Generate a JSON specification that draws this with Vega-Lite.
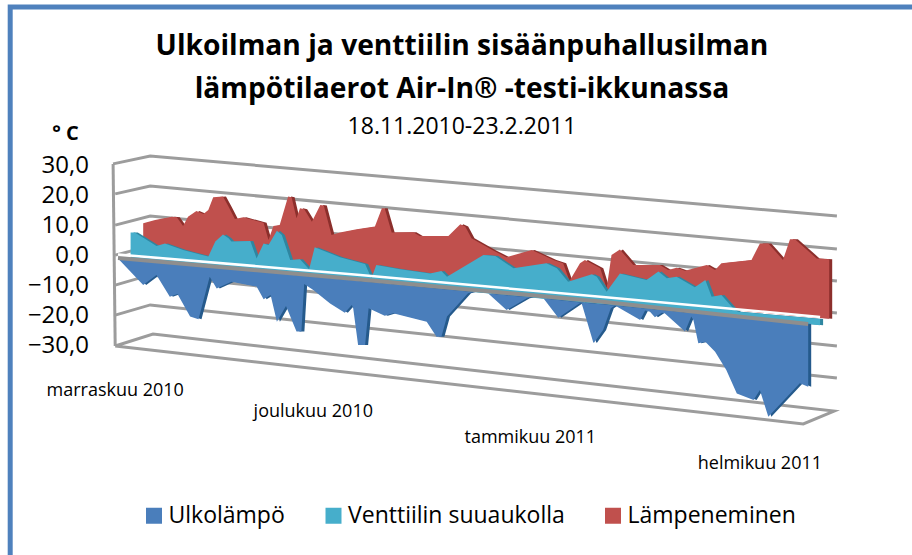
{
"$schema":"https://vega.github.io/schema/vega-lite/v6.json",
"autosize":"none","padding":0,"width":912,"height":555,"background":"white",
"view":{"stroke":null},
"title":{"text":["Ulkoilman ja venttiilin sisäänpuhallusilman","lämpötilaerot Air-In® -testi-ikkunassa"],"subtitle":"18.11.2010-23.2.2011","anchor":"middle","offset":-143,"dx":6,"font":"Open Sans","fontSize":28.2,"fontWeight":"bold","lineHeight":43,"color":"black","subtitleFont":"Open Sans","subtitleFontSize":23,"subtitleColor":"black","subtitlePadding":12},
"datasets":{
"frame":[
{"id":"reuna","i":0,"day":-15.4,"v":-100},{"id":"reuna","i":1,"day":-15.4,"v":83},{"id":"reuna","i":2,"day":114,"v":83},
{"id":"g30","i":0,"day":-0.7,"v":30.7},{"id":"g30","i":1,"day":4.6,"v":33.3},{"id":"g30","i":2,"day":102.7,"v":13.3},
{"id":"g20","i":0,"day":-0.4,"v":20.7},{"id":"g20","i":1,"day":4.6,"v":23.3},{"id":"g20","i":2,"day":102.7,"v":2.3},
{"id":"g10","i":0,"day":-0.4,"v":10.3},{"id":"g10","i":1,"day":4.6,"v":13.3},{"id":"g10","i":2,"day":102.7,"v":-8.3},
{"id":"g0","i":0,"day":-0.4,"v":0.3},{"id":"g0","i":1,"day":4.6,"v":3.3},{"id":"g0","i":2,"day":102.7,"v":-19},
{"id":"g-10","i":0,"day":-0.4,"v":-9.7},{"id":"g-10","i":1,"day":4.6,"v":-6.3},{"id":"g-10","i":2,"day":102.7,"v":-30},
{"id":"g-20","i":0,"day":-0.4,"v":-19.7},{"id":"g-20","i":1,"day":4.6,"v":-16.3},{"id":"g-20","i":2,"day":102.7,"v":-40.7},
{"id":"g-30","i":0,"day":-0.4,"v":-30},{"id":"g-30","i":1,"day":5,"v":-26},{"id":"g-30","i":2,"day":102.3,"v":-51.7},{"id":"g-30","i":3,"day":97.9,"v":-56},{"id":"g-30","i":4,"day":-0.4,"v":-30},
{"id":"seina","i":0,"day":-0.7,"v":30.7},{"id":"seina","i":1,"day":-0.4,"v":-30}
],
"zero":[
{"id":"valkoinen","i":0,"day":0,"v":0.5},{"id":"valkoinen","i":1,"day":34.6,"v":-6.3},{"id":"valkoinen","i":2,"day":68.9,"v":-13.6},{"id":"valkoinen","i":3,"day":100.3,"v":-20.3},
{"id":"harmaa","i":0,"day":0,"v":-0.7},{"id":"harmaa","i":1,"day":34.6,"v":-7.8},{"id":"harmaa","i":2,"day":68.9,"v":-15.2},{"id":"harmaa","i":3,"day":98.6,"v":-22.7}
],
"rows":[
{"series":"Lämpeneminen","day":3.6,"top":10.9,"base":-0.5},{"series":"Lämpeneminen","day":5.3,"top":12,"base":-0.9},{"series":"Lämpeneminen","day":7.7,"top":13.1,"base":-1.4},{"series":"Lämpeneminen","day":8.4,"top":12.9,"base":-1.5},{"series":"Lämpeneminen","day":9.3,"top":10,"base":-1.7},{"series":"Lämpeneminen","day":10,"top":13.1,"base":-1.9},{"series":"Lämpeneminen","day":11.2,"top":15,"base":-2.1},{"series":"Lämpeneminen","day":12.2,"top":14,"base":-2.3},{"series":"Lämpeneminen","day":12.9,"top":15.3,"base":-2.5},{"series":"Lämpeneminen","day":13.6,"top":19.6,"base":-2.6},{"series":"Lämpeneminen","day":15,"top":19.8,"base":-2.9},{"series":"Lämpeneminen","day":15.8,"top":16.4,"base":-3.1},{"series":"Lämpeneminen","day":16.7,"top":12.3,"base":-3.3},{"series":"Lämpeneminen","day":17.9,"top":12.9,"base":-3.5},{"series":"Lämpeneminen","day":20.8,"top":11.1,"base":-4.1},{"series":"Lämpeneminen","day":21.5,"top":5.3,"base":-4.3},{"series":"Lämpeneminen","day":22.2,"top":10,"base":-4.4},{"series":"Lämpeneminen","day":23.1,"top":10.3,"base":-4.6},{"series":"Lämpeneminen","day":24.3,"top":19.8,"base":-4.9},{"series":"Lämpeneminen","day":24.8,"top":19.6,"base":-5},{"series":"Lämpeneminen","day":25.5,"top":12.6,"base":-5.1},{"series":"Lämpeneminen","day":26,"top":15.9,"base":-5.2},{"series":"Lämpeneminen","day":26.6,"top":15.6,"base":-5.3},{"series":"Lämpeneminen","day":27.7,"top":11.4,"base":-5.6},{"series":"Lämpeneminen","day":28.9,"top":17,"base":-5.8},{"series":"Lämpeneminen","day":29.4,"top":16.8,"base":-5.9},{"series":"Lämpeneminen","day":30.5,"top":7,"base":-6.1},{"series":"Lämpeneminen","day":31.7,"top":7.8,"base":-6.4},{"series":"Lämpeneminen","day":34.1,"top":8.9,"base":-6.9},{"series":"Lämpeneminen","day":36.7,"top":9.8,"base":-7.4},{"series":"Lämpeneminen","day":37.7,"top":15.9,"base":-7.6},{"series":"Lämpeneminen","day":38.1,"top":15.9,"base":-7.7},{"series":"Lämpeneminen","day":39.1,"top":7.8,"base":-7.9},{"series":"Lämpeneminen","day":42.2,"top":7.9,"base":-8.6},{"series":"Lämpeneminen","day":43.1,"top":6.7,"base":-8.8},{"series":"Lämpeneminen","day":47.2,"top":6.7,"base":-9.6},{"series":"Lämpeneminen","day":48.9,"top":10.6,"base":-10},{"series":"Lämpeneminen","day":49.6,"top":9.8,"base":-10.1},{"series":"Lämpeneminen","day":50.5,"top":5.9,"base":-10.3},{"series":"Lämpeneminen","day":53.6,"top":1.8,"base":-11},{"series":"Lämpeneminen","day":55.5,"top":-0.4,"base":-11.3},{"series":"Lämpeneminen","day":59.1,"top":2,"base":-12.1},{"series":"Lämpeneminen","day":62.2,"top":-1.3,"base":-12.7},{"series":"Lämpeneminen","day":63.6,"top":-2.4,"base":-13},{"series":"Lämpeneminen","day":64.5,"top":-8.3,"base":-13.2},{"series":"Lämpeneminen","day":66,"top":-2.4,"base":-13.5},{"series":"Lämpeneminen","day":66.7,"top":-1.3,"base":-13.7},{"series":"Lämpeneminen","day":68.9,"top":-4.1,"base":-14.1},{"series":"Lämpeneminen","day":69.8,"top":-10.8,"base":-14.3},{"series":"Lämpeneminen","day":70.5,"top":0.3,"base":-14.5},{"series":"Lämpeneminen","day":71.7,"top":2.2,"base":-14.7},{"series":"Lämpeneminen","day":73.6,"top":-3,"base":-15.1},{"series":"Lämpeneminen","day":77.4,"top":-3,"base":-15.9},{"series":"Lämpeneminen","day":78.6,"top":-4.7,"base":-16.1},{"series":"Lämpeneminen","day":79.8,"top":-3.9,"base":-16.4},{"series":"Lämpeneminen","day":81,"top":-4.9,"base":-16.6},{"series":"Lämpeneminen","day":84.1,"top":-3,"base":-17.3},{"series":"Lämpeneminen","day":85.3,"top":-4.7,"base":-17.5},{"series":"Lämpeneminen","day":86.2,"top":-2.4,"base":-17.7},{"series":"Lämpeneminen","day":90.5,"top":-1.3,"base":-18.6},{"series":"Lämpeneminen","day":91.7,"top":4.2,"base":-18.9},{"series":"Lämpeneminen","day":92.9,"top":4.2,"base":-19.1},{"series":"Lämpeneminen","day":95,"top":-1.3,"base":-19.6},{"series":"Lämpeneminen","day":96,"top":5.6,"base":-19.8},{"series":"Lämpeneminen","day":96.7,"top":5.6,"base":-19.9},{"series":"Lämpeneminen","day":99.8,"top":-0.8,"base":-20.6},{"series":"Lämpeneminen","day":101.6,"top":-1.1,"base":-20.9},
{"series":"Venttiilin suuaukolla","day":1.8,"top":7.8,"base":-1.1},{"series":"Venttiilin suuaukolla","day":2.4,"top":7.8,"base":-1.2},{"series":"Venttiilin suuaukolla","day":5.5,"top":3.3,"base":-1.9},{"series":"Venttiilin suuaukolla","day":6.7,"top":4.2,"base":-2.2},{"series":"Venttiilin suuaukolla","day":9.3,"top":2,"base":-2.7},{"series":"Venttiilin suuaukolla","day":12.9,"top":-0.2,"base":-3.5},{"series":"Venttiilin suuaukolla","day":13.9,"top":4.8,"base":-3.8},{"series":"Venttiilin suuaukolla","day":15,"top":7.2,"base":-4},{"series":"Venttiilin suuaukolla","day":15.8,"top":5.9,"base":-4.2},{"series":"Venttiilin suuaukolla","day":16.2,"top":4.8,"base":-4.3},{"series":"Venttiilin suuaukolla","day":18.9,"top":5,"base":-4.9},{"series":"Venttiilin suuaukolla","day":19.8,"top":-0.8,"base":-5.1},{"series":"Venttiilin suuaukolla","day":20.8,"top":4.2,"base":-5.3},{"series":"Venttiilin suuaukolla","day":21.5,"top":3.7,"base":-5.5},{"series":"Venttiilin suuaukolla","day":22.7,"top":8.4,"base":-5.7},{"series":"Venttiilin suuaukolla","day":23.4,"top":7,"base":-5.9},{"series":"Venttiilin suuaukolla","day":24.6,"top":-1.3,"base":-6.2},{"series":"Venttiilin suuaukolla","day":26,"top":-1.1,"base":-6.5},{"series":"Venttiilin suuaukolla","day":27.3,"top":-4.4,"base":-6.8},{"series":"Venttiilin suuaukolla","day":28.1,"top":2.9,"base":-7},{"series":"Venttiilin suuaukolla","day":31.7,"top":-0.4,"base":-7.8},{"series":"Venttiilin suuaukolla","day":35.3,"top":-2.7,"base":-8.6},{"series":"Venttiilin suuaukolla","day":36.2,"top":-7.4,"base":-8.8},{"series":"Venttiilin suuaukolla","day":36.9,"top":-3,"base":-8.9},{"series":"Venttiilin suuaukolla","day":40.3,"top":-4.4,"base":-9.7},{"series":"Venttiilin suuaukolla","day":44.6,"top":-5.8,"base":-10.6},{"series":"Venttiilin suuaukolla","day":46.2,"top":-5,"base":-11},{"series":"Venttiilin suuaukolla","day":47,"top":-6.9,"base":-11.2},{"series":"Venttiilin suuaukolla","day":52.2,"top":0.3,"base":-12.3},{"series":"Venttiilin suuaukolla","day":53.9,"top":0,"base":-12.7},{"series":"Venttiilin suuaukolla","day":56.5,"top":-4.1,"base":-13.3},{"series":"Venttiilin suuaukolla","day":61.2,"top":-2.4,"base":-14.3},{"series":"Venttiilin suuaukolla","day":62.7,"top":-4.1,"base":-14.7},{"series":"Venttiilin suuaukolla","day":64.3,"top":-8.6,"base":-15},{"series":"Venttiilin suuaukolla","day":67.7,"top":-6.1,"base":-15.8},{"series":"Venttiilin suuaukolla","day":68.4,"top":-6.9,"base":-15.9},{"series":"Venttiilin suuaukolla","day":69.8,"top":-11.9,"base":-16.3},{"series":"Venttiilin suuaukolla","day":71.7,"top":-5.8,"base":-16.7},{"series":"Venttiilin suuaukolla","day":75.5,"top":-8,"base":-17.5},{"series":"Venttiilin suuaukolla","day":77.2,"top":-5.2,"base":-17.9},{"series":"Venttiilin suuaukolla","day":78.4,"top":-7.4,"base":-18.2},{"series":"Venttiilin suuaukolla","day":79.8,"top":-6.9,"base":-18.5},{"series":"Venttiilin suuaukolla","day":82.4,"top":-10.4,"base":-19.1},{"series":"Venttiilin suuaukolla","day":83.9,"top":-8,"base":-19.4},{"series":"Venttiilin suuaukolla","day":84.8,"top":-13.6,"base":-19.6},{"series":"Venttiilin suuaukolla","day":86.2,"top":-13,"base":-19.9},{"series":"Venttiilin suuaukolla","day":88.1,"top":-18,"base":-20.3},{"series":"Venttiilin suuaukolla","day":88.6,"top":-18.6,"base":-20.5},{"series":"Venttiilin suuaukolla","day":100.3,"top":-21,"base":-23.1},
{"series":"Ulkolämpö","day":0,"top":-0.7,"base":-0.8},{"series":"Ulkolämpö","day":3.6,"top":-1.5,"base":-9.7},{"series":"Ulkolämpö","day":5.5,"top":-1.9,"base":-6.3},{"series":"Ulkolämpö","day":7.4,"top":-2.3,"base":-13.6},{"series":"Ulkolämpö","day":8.5,"top":-2.6,"base":-12.7},{"series":"Ulkolämpö","day":10.3,"top":-3,"base":-20.2},{"series":"Ulkolämpö","day":11.5,"top":-3.2,"base":-21.1},{"series":"Ulkolämpö","day":13.1,"top":-3.6,"base":-6.9},{"series":"Ulkolämpö","day":14.1,"top":-3.8,"base":-10.8},{"series":"Ulkolämpö","day":16.2,"top":-4.3,"base":-8.6},{"series":"Ulkolämpö","day":19.8,"top":-5.1,"base":-10.2},{"series":"Ulkolämpö","day":20.8,"top":-5.3,"base":-14.4},{"series":"Ulkolämpö","day":21.8,"top":-5.5,"base":-13},{"series":"Ulkolämpö","day":22.7,"top":-5.7,"base":-21.9},{"series":"Ulkolämpö","day":24,"top":-6,"base":-16.7},{"series":"Ulkolämpö","day":25.5,"top":-6.4,"base":-25.2},{"series":"Ulkolämpö","day":26.2,"top":-6.5,"base":-25.2},{"series":"Ulkolämpö","day":26.6,"top":-6.6,"base":-9.3},{"series":"Ulkolämpö","day":27.9,"top":-6.9,"base":-11.3},{"series":"Ulkolämpö","day":30.3,"top":-7.4,"base":-15.8},{"series":"Ulkolämpö","day":32.4,"top":-7.9,"base":-18.9},{"series":"Ulkolämpö","day":33.4,"top":-8.1,"base":-16.3},{"series":"Ulkolämpö","day":33.6,"top":-8.2,"base":-17.4},{"series":"Ulkolämpö","day":34.3,"top":-8.3,"base":-29.7},{"series":"Ulkolämpö","day":35.3,"top":-8.6,"base":-29.7},{"series":"Ulkolämpö","day":35.8,"top":-8.7,"base":-17.4},{"series":"Ulkolämpö","day":38.1,"top":-9.2,"base":-19.9},{"series":"Ulkolämpö","day":39.3,"top":-9.4,"base":-19.1},{"series":"Ulkolämpö","day":44.1,"top":-10.5,"base":-21.9},{"series":"Ulkolämpö","day":45.5,"top":-10.8,"base":-26.9},{"series":"Ulkolämpö","day":46.2,"top":-11,"base":-26.9},{"series":"Ulkolämpö","day":47,"top":-11.2,"base":-20.2},{"series":"Ulkolämpö","day":50,"top":-11.8,"base":-12.4},{"series":"Ulkolämpö","day":50.7,"top":-12,"base":-12},{"series":"Ulkolämpö","day":52.9,"top":-12.5,"base":-12.5},{"series":"Ulkolämpö","day":55.5,"top":-13.1,"base":-18},{"series":"Ulkolämpö","day":58.4,"top":-13.7,"base":-14.1},{"series":"Ulkolämpö","day":59,"top":-13.8,"base":-13.8},{"series":"Ulkolämpö","day":60.8,"top":-14.2,"base":-14.2},{"series":"Ulkolämpö","day":62.9,"top":-14.7,"base":-20.6},{"series":"Ulkolämpö","day":65.8,"top":-15.4,"base":-16},{"series":"Ulkolämpö","day":66.2,"top":-15.5,"base":-15.5},{"series":"Ulkolämpö","day":67.9,"top":-15.8,"base":-28.8},{"series":"Ulkolämpö","day":68,"top":-15.9,"base":-28.9},{"series":"Ulkolämpö","day":69.3,"top":-16.1,"base":-24.7},{"series":"Ulkolämpö","day":70.4,"top":-16.4,"base":-17.4},{"series":"Ulkolämpö","day":71,"top":-16.5,"base":-16.5},{"series":"Ulkolämpö","day":74.6,"top":-17.3,"base":-21.3},{"series":"Ulkolämpö","day":75.3,"top":-17.5,"base":-18.2},{"series":"Ulkolämpö","day":76,"top":-17.6,"base":-18.6},{"series":"Ulkolämpö","day":76.7,"top":-17.8,"base":-20.4},{"series":"Ulkolämpö","day":77.7,"top":-18,"base":-18.9},{"series":"Ulkolämpö","day":78.1,"top":-18.1,"base":-19.1},{"series":"Ulkolämpö","day":81,"top":-18.8,"base":-25.2},{"series":"Ulkolämpö","day":81.9,"top":-19,"base":-20.2},{"series":"Ulkolämpö","day":82.2,"top":-19,"base":-21.3},{"series":"Ulkolämpö","day":82.9,"top":-19.2,"base":-29.1},{"series":"Ulkolämpö","day":83.9,"top":-19.4,"base":-28.6},{"series":"Ulkolämpö","day":85.3,"top":-19.7,"base":-31.9},{"series":"Ulkolämpö","day":86.9,"top":-20,"base":-38},{"series":"Ulkolämpö","day":88.4,"top":-20.4,"base":-45.8},{"series":"Ulkolämpö","day":90.8,"top":-20.9,"base":-48},{"series":"Ulkolämpö","day":91.7,"top":-21.1,"base":-44.7},{"series":"Ulkolämpö","day":92.9,"top":-21.4,"base":-53.6},{"series":"Ulkolämpö","day":97.4,"top":-22.4,"base":-42.4},{"series":"Ulkolämpö","day":98.6,"top":-22.7,"base":-43.6}
],
"notes":[
{"label":"marraskuu 2010","day":-0.4,"v":-45},{"label":"joulukuu 2010","day":27.9,"v":-52},{"label":"tammikuu 2011","day":58.9,"v":-60.7},{"label":"helmikuu 2011","day":91.7,"v":-69.3}
],
"unit":[{"label":"° C","day":-7.5,"v":40.7}]
},
"encoding":{
"x":{"field":"day","type":"quantitative","scale":{"domain":[-16.857,113.429],"nice":false,"zero":false},"axis":null},
"y":{"field":"v","type":"quantitative","scale":{"domain":[-99.667,85.333],"nice":false,"zero":false},"axis":{"values":[-30,-20,-10,0,10,20,30],"title":null,"domain":false,"ticks":false,"grid":false,"offset":-88.5,"labelPadding":0,"labelFont":"Open Sans","labelFontSize":24,"labelColor":"black","labelExpr":"replace(format(datum.value,'.1f'),'.',',')"}}
},
"layer":[
{"data":{"name":"frame"},"transform":[{"filter":"datum.id=='reuna'"}],"mark":{"type":"line","color":"#4f81bd","strokeWidth":5,"clip":false},"encoding":{"detail":{"field":"id"},"order":{"field":"i"}}},
{"data":{"name":"frame"},"transform":[{"filter":"datum.id!='reuna'"}],"mark":{"type":"line","color":"#9c9c9c","strokeWidth":3},"encoding":{"detail":{"field":"id"},"order":{"field":"i"}}},
{"data":{"name":"rows"},"transform":[{"filter":"datum.series=='Lämpeneminen'"}],"mark":{"type":"area","color":"#8c2f2c","xOffset":3,"yOffset":0},"encoding":{"y":{"field":"top","type":"quantitative"},"y2":{"field":"base"}}},
{"data":{"name":"rows"},"transform":[{"filter":"datum.series=='Lämpeneminen'"}],"mark":{"type":"area"},"encoding":{"y":{"field":"top","type":"quantitative"},"y2":{"field":"base"},"color":{"field":"series","type":"nominal","scale":{"domain":["Ulkolämpö","Venttiilin suuaukolla","Lämpeneminen"],"range":["#4a7ebb","#46aecb","#c0504d"]},"legend":{"title":null,"orient":"none","legendX":142.5,"legendY":504,"direction":"horizontal","symbolType":"square","symbolSize":256,"symbolStrokeWidth":0,"labelFont":"Open Sans","labelFontSize":23,"labelColor":"black","labelOffset":3,"labelLimit":400,"columnPadding":36.5,"symbolOpacity":1}}}},
{"data":{"name":"rows"},"transform":[{"filter":"datum.series=='Venttiilin suuaukolla'"}],"mark":{"type":"area","color":"#2f86a0","xOffset":3,"yOffset":0},"encoding":{"y":{"field":"top","type":"quantitative"},"y2":{"field":"base"}}},
{"data":{"name":"rows"},"transform":[{"filter":"datum.series=='Venttiilin suuaukolla'"}],"mark":{"type":"area"},"encoding":{"y":{"field":"top","type":"quantitative"},"y2":{"field":"base"},"color":{"field":"series","type":"nominal"}}},
{"data":{"name":"zero"},"transform":[{"filter":"datum.id=='valkoinen'"}],"mark":{"type":"line","color":"white","strokeWidth":2.5},"encoding":{"order":{"field":"i"}}},
{"data":{"name":"rows"},"transform":[{"filter":"datum.series=='Ulkolämpö'"}],"mark":{"type":"area","color":"#255a8c","xOffset":3,"yOffset":0},"encoding":{"y":{"field":"top","type":"quantitative"},"y2":{"field":"base"}}},
{"data":{"name":"rows"},"transform":[{"filter":"datum.series=='Ulkolämpö'"}],"mark":{"type":"area"},"encoding":{"y":{"field":"top","type":"quantitative"},"y2":{"field":"base"},"color":{"field":"series","type":"nominal"}}},
{"data":{"name":"zero"},"transform":[{"filter":"datum.id=='harmaa'"}],"mark":{"type":"line","color":"#8e8e8e","strokeWidth":4},"encoding":{"order":{"field":"i"}}},
{"data":{"name":"notes"},"mark":{"type":"text","font":"Open Sans","fontSize":18,"color":"black"},"encoding":{"text":{"field":"label"}}},
{"data":{"name":"unit"},"mark":{"type":"text","font":"Open Sans","fontSize":20,"fontWeight":"bold","color":"black"},"encoding":{"text":{"field":"label"}}}
]
}
